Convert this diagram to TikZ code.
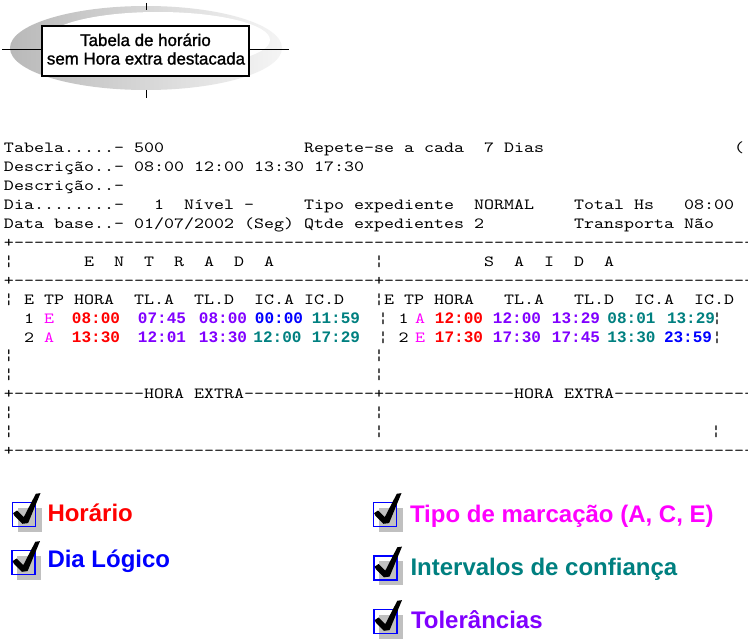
\documentclass[tikz,border=0pt]{standalone}
\usepackage{fontspec}
\setmainfont{Liberation Sans}
\newfontfamily\titlefont{Liberation Sans}[FakeBold=1.4]
\newfontfamily\courfont{lmmono10-regular.otf}[Ligatures=TeXOff,FakeStretch=1.229]
\newfontfamily\courmono{Liberation Mono}
\definecolor{hred}{HTML}{FF0000}
\definecolor{tpurple}{HTML}{8000FF}
\definecolor{dblue}{HTML}{0000FF}
\definecolor{iteal}{HTML}{008080}
\definecolor{tmag}{HTML}{FF00FF}
\definecolor{shadegray}{HTML}{C0C0C0}
\newcommand\dten{----------}
\newcounter{tnode}
% monospaced text at a column and row
\newcommand\mtx[3]{\stepcounter{tnode}\node[mono] (m\thetnode) at ({4+10*(#1)},{152.5+18.95*(#2)}) {#3};}
% single character centred at x
\newcommand\mch[3]{\stepcounter{tnode}\node[monoc] (m\thetnode) at (#1,{152.5+18.95*(#2)}) {#3};}
% bold coloured value centred at x
\newcommand\mval[4]{\stepcounter{tnode}\node[val,text=#3] (m\thetnode) at (#1,{152.5+18.95*(#2)}) {#4};}
\newcommand\chkbox[3]{%
  \begin{scope}[shift={(#2,#3)}]
    \fill[shadegray] (5.3,5.3) rectangle (29.3,29.3);
    \draw[dblue, line width=1.2pt] (0,0) rectangle (23,24);
    \fill[black] (0.6,10.6) -- (4.6,8) -- (11.3,14.6) -- (23.3,-8.7) -- (28,-9.4)
      -- (15.6,20.6) -- (10,21.3) -- (2,13.3) -- cycle;
    \coordinate (#1) at (11.5,12);
  \end{scope}}
\begin{document}
\begin{tikzpicture}[x=1pt,y=-1pt,
  mono/.style={anchor=base west, inner sep=0pt, outer sep=0pt, font=\courfont\fontsize{15.5}{18}\selectfont},
  monoc/.style={anchor=base, inner sep=0pt, outer sep=0pt, font=\courfont\fontsize{15.5}{18}\selectfont},
  val/.style={anchor=base, inner sep=0pt, outer sep=0pt, font=\courmono\bfseries\fontsize{16}{18}\selectfont},
  legend/.style={anchor=base west, inner sep=0pt, outer sep=0pt, font=\bfseries\fontsize{24}{28}\selectfont},
  titletxt/.style={anchor=base, inner sep=0pt, font=\titlefont\fontsize{16.9}{18.5}\selectfont},
  cross/.style={draw=black, line width=1pt}]
\useasboundingbox (0,0) rectangle (748,642);
\clip (0,0) rectangle (748,642);
\fill[white] (0,0) rectangle (748,642);

% ---- title ----
\shade[left color=gray!55, right color=gray!8] (146,48) ellipse [x radius=136pt, y radius=42pt];
\fill[white] (158,40) ellipse [x radius=112pt, y radius=28pt];
\coordinate (hl) at (2,50); \coordinate (hr) at (289,50);
\coordinate (vt1) at (146,3); \coordinate (vt2) at (146,10);
\coordinate (vb1) at (146,90); \coordinate (vb2) at (146,98);
\draw[cross] (hl) -- (hr);
\draw[cross] (vt1) -- (vt2);
\draw[cross] (vb1) -- (vb2);
\node[draw=black, fill=white, line width=1.2pt, minimum width=207pt, minimum height=50pt, inner sep=0pt] (titlebox) at (145.5,51) {};
\node[titletxt] (title1) at (145.5,46) {Tabela de horário};
\node[titletxt] (title2) at (146,64.5) {sem Hora extra destacada};

% ---- header lines ----
\mtx{0}{0}{Tabela.....-}\mtx{13}{0}{500}\mtx{30}{0}{Repete-se}\mtx{40}{0}{a}\mtx{42}{0}{cada}\mtx{48}{0}{7}\mtx{50}{0}{Dias}\mtx{73}{0}{(}
\mtx{0}{1}{Descrição..-}\mtx{13}{1}{08:00}\mtx{19}{1}{12:00}\mtx{25}{1}{13:30}\mtx{31}{1}{17:30}
\mtx{0}{2}{Descrição..-}
\mtx{0}{3}{Dia........-}\mtx{15}{3}{1}\mtx{18}{3}{Nível}\mtx{24}{3}{-}\mtx{30}{3}{Tipo}\mtx{35}{3}{expediente}\mtx{47}{3}{NORMAL}\mtx{57}{3}{Total}\mtx{63}{3}{Hs}\mtx{68}{3}{08:00}
\mtx{0}{4}{Data}\mtx{5}{4}{base..-}\mtx{13}{4}{01/07/2002}\mtx{24}{4}{(Seg)}\mtx{30}{4}{Qtde}\mtx{35}{4}{expedientes}\mtx{47}{4}{2}\mtx{57}{4}{Transporta}\mtx{68}{4}{Não}

% ---- table ----
\mtx{0}{5}{+\dten\dten\dten\dten\dten\dten\dten----}
\mtx{0}{6}{¦}\mtx{8}{6}{E}\mtx{11}{6}{N}\mtx{14}{6}{T}\mtx{17}{6}{R}\mtx{20}{6}{A}\mtx{23}{6}{D}\mtx{26}{6}{A}
\mtx{37}{6}{¦}\mtx{48}{6}{S}\mtx{51}{6}{A}\mtx{54}{6}{I}\mtx{57}{6}{D}\mtx{60}{6}{A}
\mtx{0}{7}{+\dten\dten\dten------+\dten\dten\dten-------}
\mtx{0}{8}{¦}\mtx{2}{8}{E}\mtx{4}{8}{TP}\mtx{7}{8}{HORA}\mtx{13}{8}{TL.A}\mtx{19}{8}{TL.D}\mtx{25}{8}{IC.A}\mtx{30}{8}{IC.D}
\mtx{37}{8}{¦E}\mtx{40}{8}{TP}\mtx{43}{8}{HORA}\mtx{50}{8}{TL.A}\mtx{57}{8}{TL.D}\mtx{63}{8}{IC.A}\mtx{69}{8}{IC.D}
% row 1
\mtx{2}{9}{1}\mtx{4}{9}{\color{tmag}E}
\mval{96}{9}{hred}{08:00}\mval{162}{9}{tpurple}{07:45}\mval{223}{9}{tpurple}{08:00}\mval{279}{9}{dblue}{00:00}\mval{336}{9}{iteal}{11:59}
\mch{383}{9}{¦}\mch{403.5}{9}{1}\mch{420}{9}{\color{tmag}A}
\mval{459}{9}{hred}{12:00}\mval{517}{9}{tpurple}{12:00}\mval{576}{9}{tpurple}{13:29}\mval{631.5}{9}{iteal}{08:01}\mval{691}{9}{iteal}{13:29}
\mch{717}{9}{¦}
% row 2
\mtx{2}{10}{2}\mtx{4}{10}{\color{tmag}A}
\mval{96}{10}{hred}{13:30}\mval{162}{10}{tpurple}{12:01}\mval{223}{10}{tpurple}{13:30}\mval{277.5}{10}{iteal}{12:00}\mval{336}{10}{iteal}{17:29}
\mch{383}{10}{¦}\mch{403.5}{10}{2}\mch{420}{10}{\color{tmag}E}
\mval{459}{10}{hred}{17:30}\mval{517}{10}{tpurple}{17:30}\mval{576}{10}{tpurple}{17:45}\mval{631.5}{10}{iteal}{13:30}\mval{688}{10}{dblue}{23:59}
\mch{717}{10}{¦}
% empty rows
\mtx{0}{11}{¦}\mtx{37}{11}{¦}
\mtx{0}{12}{¦}\mtx{37}{12}{¦}
\mtx{0}{13}{+\dten---HORA}\mtx{19}{13}{EXTRA\dten---+\dten---HORA}\mtx{56}{13}{EXTRA\dten----}
\mtx{0}{14}{¦}\mtx{37}{14}{¦}
\mtx{0}{15}{¦}\mtx{37}{15}{¦}\mch{716}{15}{¦}
\mtx{0}{16}{+\dten\dten\dten\dten\dten\dten\dten----}

% ---- legend ----
\chkbox{c1}{12.5}{502.5}
\chkbox{c2}{12}{550.5}
\chkbox{c3}{373.5}{502.5}
\chkbox{c4}{374}{556}
\chkbox{c5}{374}{609.5}
\node[legend, text=hred] (l1) at (47.5,521) {Horário};
\node[legend, text=dblue] (l2) at (47.5,567) {Dia Lógico};
\node[legend, text=tmag] (l3) at (410,522) {Tipo de marcação (A, C, E)};
\node[legend, text=iteal] (l4) at (410.5,575) {Intervalos de confiança};
\node[legend, text=tpurple] (l5) at (411,628) {Tolerâncias};
\end{tikzpicture}
\end{document}
